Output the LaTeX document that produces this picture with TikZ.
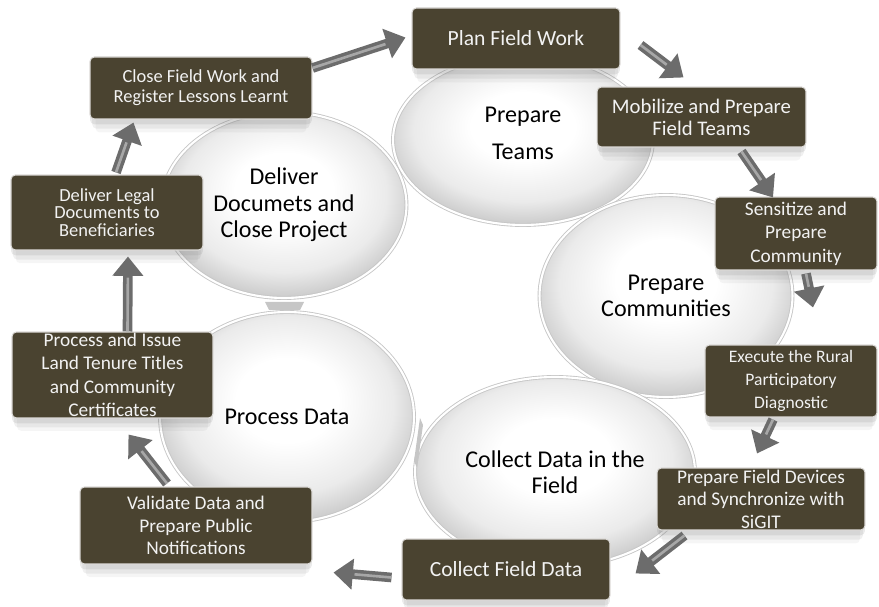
\documentclass[tikz,border=0pt]{standalone}
\usepackage{fontspec}
\setmainfont{Carlito}
\usepackage{tikz}
\usetikzlibrary{arrows.meta,shapes.geometric,shadows}
\usepackage{xcolor}
\definecolor{taskfill}{HTML}{4A4330}
\definecolor{arrowgray}{HTML}{6C6C6C}
\colorlet{l-arrowgray}{arrowgray!60}
\pgfdeclareradialshading{phaseshade}{\pgfpoint{0bp}{5bp}}{color(0bp)=(white); color(10bp)=(white); color(21bp)=(black!8); color(27bp)=(black!20); color(50bp)=(black!28)}

\begin{document}
\begin{tikzpicture}[x=0.02cm, y=-0.02cm,
    phase/.style={ellipse, shade, shading=phaseshade, draw=gray!45, line width=0.5pt,
      double=white, double distance=1.2pt, inner sep=0pt, align=center,
      font=\fontsize{13.7}{15}\selectfont},
    task/.style={rectangle, rounded corners=2.5pt, fill=taskfill, draw=white!80!taskfill,
      line width=0.6pt, text=white!95!black, align=center, inner xsep=2pt, inner ysep=0pt,
      font=\fontsize{11}{13.2}\selectfont,
      drop shadow={shadow xshift=0pt, shadow yshift=-3pt, opacity=.16},
      drop shadow={shadow xshift=0pt, shadow yshift=-6pt, opacity=.12, shadow scale=.98},
      drop shadow={shadow xshift=0pt, shadow yshift=-9pt, opacity=.08, shadow scale=.95}},
    flow/.style={draw=arrowgray, line width=5.5pt, -{Triangle[width=17pt,length=11pt]},
      postaction={draw=l-arrowgray, line width=1.5pt, -, shorten >=12pt}}]
  \useasboundingbox (0,0) rectangle (879,607);

  \node[phase, minimum width=5.2cm, minimum height=3.4cm] (teams) at (523,140) {Prepare\\[6pt]Teams\\[-7pt]\mbox{}};
  \node[phase, minimum width=5.06cm, minimum height=4.04cm] (comm) at (666,296) {Prepare\\Communities};
  \node[phase, minimum width=5.6cm, minimum height=3.8cm] (collect) at (555,472) {Collect Data in the\\Field};
  \node[phase, minimum width=5.08cm, minimum height=4.2cm] (pdata) at (287,417) {Process Data};
  \node[phase, minimum width=4.9cm, minimum height=3.72cm] (deliver) at (284,205) {Deliver\\Documets and\\Close Project};

  \fill[gray!45] (265,302) -- (304,302) -- (300,310) -- (269,310) -- cycle;
  \fill[gray!45] (420,418) -- (423,425) -- (417,468) -- (414,461) -- cycle;

  \node[task, minimum width=4.16cm, minimum height=1.22cm, font=\fontsize{12.3}{14}\selectfont] (plan) at (516,38.5) {Plan Field Work};
  \node[task, minimum width=4.18cm, minimum height=1.2cm, font=\fontsize{11.8}{12.6}\selectfont] (mobilize) at (701.5,117) {Mobilize and Prepare\\Field Teams};
  \node[task, minimum width=3.24cm, minimum height=1.46cm, font=\fontsize{11}{13.3}\selectfont] (sensitize) at (796,233.5) {Sensitize and\\Prepare\\Community};
  \node[task, minimum width=3.44cm, minimum height=1.44cm, font=\fontsize{10}{13.3}\selectfont] (execute) at (791,381) {Execute the Rural\\Participatory\\Diagnostic};
  \node[task, minimum width=4.16cm, minimum height=1.24cm, inner ysep=-1pt, font=\fontsize{11}{12.8}\selectfont] (devices) at (761,499) {Prepare Field Devices\\and Synchronize with\\SiGIT};
  \node[task, minimum width=4.16cm, minimum height=1.22cm, font=\fontsize{12.3}{14}\selectfont] (cfield) at (506,569.5) {Collect Field Data};
  \node[task, minimum width=4.64cm, minimum height=1.54cm, font=\fontsize{11}{13}\selectfont] (validate) at (196,525.5) {Validate Data and\\Prepare Public\\Notifications};
  \node[task, minimum width=4.02cm, minimum height=1.72cm, font=\fontsize{11}{13.4}\selectfont] (issue) at (112.5,375) {Process and Issue\\Land Tenure Titles\\and Community\\Certificates};
  \node[task, minimum width=3.84cm, minimum height=1.5cm, font=\fontsize{10.5}{10}\selectfont] (legal) at (107,212.5) {Deliver Legal\\Documents to\\Beneficiaries};
  \node[task, minimum width=4.44cm, minimum height=1.24cm, font=\fontsize{10.5}{11.3}\selectfont] (close) at (201,88) {Close Field Work and\\Register Lessons Learnt};

  \draw[flow] ([shift={(0,-20)}]close.east) -- ([shift={(-6,-1)}]plan.west);
  \draw[flow] ([shift={(20,6.5)}]plan.east) -- ([shift={(-18,-9)}]mobilize.north);
  \draw[flow] ([shift={(40,4)}]mobilize.south) -- ([shift={(-23,1)}]sensitize.north);
  \draw[flow] ([shift={(10,3)}]sensitize.south) -- ([shift={(22,-37)}]execute.north);
  \draw[flow] ([shift={(-18,2)}]execute.south) -- ([shift={(-4,-14)}]devices.north);
  \draw[flow] ([shift={(28,5)}]devices.south west) -- ([shift={(25,4)}]cfield.east);
  \draw[flow] ([shift={(-10,8)}]cfield.west) -- ([shift={(21,8)}]validate.south east);
  \draw[flow] ([shift={(-29,-3)}]validate.north) -- ([shift={(16,16)}]issue.south);
  \draw[flow] ([shift={(15,0)}]issue.north) -- ([shift={(21,6)}]legal.south);
  \draw[flow] ([shift={(9,-2)}]legal.north) -- ([shift={(44,3)}]close.south west);
\end{tikzpicture}
\end{document}
